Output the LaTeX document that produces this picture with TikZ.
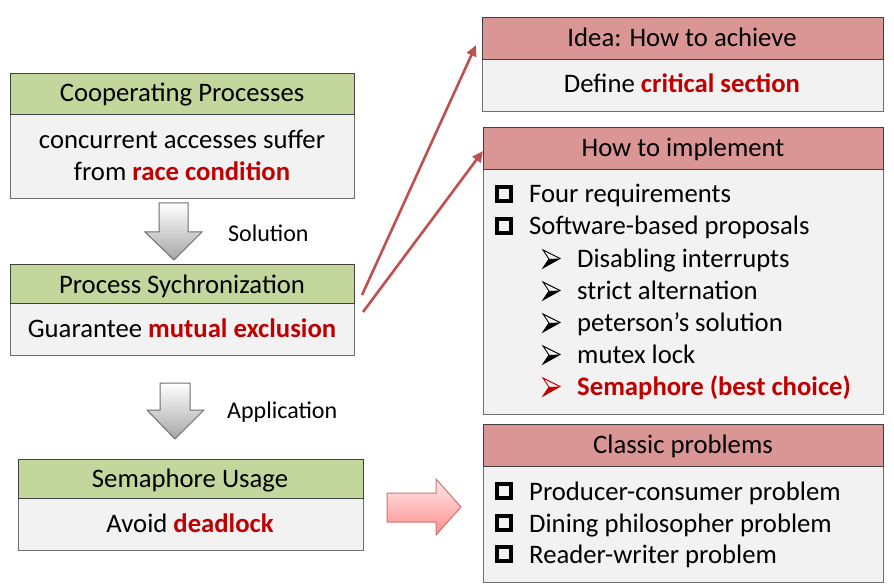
\documentclass[tikz,border=0pt]{standalone}
\usepackage{fontspec}
\setmainfont{Carlito}
\usetikzlibrary{arrows.meta,calc}
\definecolor{hgreen}{HTML}{C3D69B}
\definecolor{hpink}{HTML}{D99694}
\definecolor{bodyg}{HTML}{F2F2F2}
\definecolor{txtred}{HTML}{C00000}
\definecolor{arrred}{HTML}{C0504D}
\definecolor{bord}{HTML}{404040}
\definecolor{bordb}{HTML}{6E6E6E}
\begin{document}
\begin{tikzpicture}[x=1pt,y=-1pt,
  box/.style={line width=1.3pt, anchor=north west, inner sep=0pt},
  hdrg/.style={box, draw=bord, fill=hgreen},
  hdrp/.style={box, draw=bord, fill=hpink},
  bodyb/.style={box, draw=bordb, fill=bodyg},
  txt/.style={font=\fontsize{26.7}{32}\selectfont, inner sep=0pt, anchor=base},
  item/.style={font=\fontsize{26.7}{32}\selectfont, inner sep=0pt, anchor=base west},
  lbl/.style={font=\fontsize{24}{28}\selectfont, inner sep=0pt, anchor=base west},
  sq/.style={draw=black, line width=3.4pt, minimum size=14pt, inner sep=0pt},
  pics/abul/.style={code={
    \fill[#1] (6,9) -- (17,8.5) -- (0,18) -- cycle;
    \draw[#1, line width=0.9pt, line join=miter] (0,0) -- (17,8.5) -- (0,18) -- (6,9) -- cycle;
  }},
  redarrow/.style={draw=arrred, line width=2.6pt, -{Triangle[length=11pt,width=10pt]}},
  grayblock/.style={draw=bordb, line width=1pt, top color=white, bottom color=black!35},
  pinkblock/.style={draw=arrred!80, line width=1pt, top color=red!8, bottom color=red!45!white}
]
\useasboundingbox (0,0) rectangle (894,588);

% ---------- left column ----------
\node[bodyb, minimum width=344pt, minimum height=84pt] (b1) at (10,114) {};
\node[hdrg, minimum width=344pt, minimum height=41pt] (h1) at (10,73) {};
\node[txt] (h1t) at (182,102) {Cooperating Processes};
\node[txt] (b1t1) at (182,149) {concurrent accesses suffer};
\node[txt] (b1t2) at (182,181) {from {\bfseries\color{txtred}race condition}};

\path[grayblock] (159,203) -- (188,203) -- (188,232) -- (202,232) -- (174,260) -- (145,232) -- (159,232) -- cycle;
\node[lbl] (sol) at (228,241) {Solution};

\node[bodyb, minimum width=344pt, minimum height=52pt] (b2) at (10,303) {};
\node[hdrg, minimum width=344pt, minimum height=39pt] (h2) at (10,264) {};
\node[txt] (h2t) at (182,293) {Process Sychronization};
\node[txt] (b2t) at (182,337) {Guarantee {\bfseries\color{txtred}mutual exclusion}};

\path[grayblock] (160,383) -- (190,383) -- (190,410) -- (204,410) -- (175,439) -- (147,410) -- (160,410) -- cycle;
\node[lbl] (app) at (227,418) {Application};

\node[bodyb, minimum width=345pt, minimum height=52pt] (b3) at (18,498) {};
\node[hdrg, minimum width=345pt, minimum height=39pt] (h3) at (18,459) {};
\node[txt] (h3t) at (190,487) {Semaphore Usage};
\node[txt] (b3t) at (190,532) {Avoid {\bfseries\color{txtred}deadlock}};

% ---------- right column ----------
\node[bodyb, minimum width=401pt, minimum height=52pt] (bA) at (482,59) {};
\node[hdrp, minimum width=401pt, minimum height=42pt] (hA) at (482,17) {};
\node[txt] (hAt) at (682,47) {Idea: How to achieve};
\node[txt] (bAt) at (682,93) {Define {\bfseries\color{txtred}critical section}};

\node[bodyb, minimum width=400pt, minimum height=245pt] (bB) at (483,169) {};
\node[hdrp, minimum width=400pt, minimum height=42pt] (hB) at (483,127) {};
\node[txt] (hBt) at (683,157) {How to implement};
\node[sq] (q1) at (504,194) {};
\node[item] (i1) at (529,203) {Four requirements};
\node[sq] (q2) at (504,226) {};
\node[item] (i2) at (529,235) {Software-based proposals};
\pic at (543,250) {abul=black};
\node[item] (i3) at (577,267) {Disabling interrupts};
\pic at (543,282) {abul=black};
\node[item] (i4) at (577,299) {strict alternation};
\pic at (543,314) {abul=black};
\node[item] (i5) at (577,331) {peterson’s solution};
\pic at (543,346) {abul=black};
\node[item] (i6) at (577,363) {mutex lock};
\pic at (543,378) {abul=txtred};
\node[item, font=\fontsize{26.7}{32}\selectfont\bfseries, text=txtred] (i7) at (577,395) {Semaphore (best choice)};

\node[bodyb, minimum width=400pt, minimum height=116pt] (bC) at (483,466) {};
\node[hdrp, minimum width=400pt, minimum height=42pt] (hC) at (483,424) {};
\node[txt] (hCt) at (683,453) {Classic problems};
\node[sq] (q3) at (504,491) {};
\node[item] (c1) at (529,500) {Producer-consumer problem};
\node[sq] (q4) at (504,523) {};
\node[item] (c2) at (529,532) {Dining philosopher problem};
\node[sq] (q5) at (504,554) {};
\node[item] (c3) at (529,563) {Reader-writer problem};

% ---------- connectors ----------
\coordinate (s1) at (362,295);
\coordinate (s2) at (363,312);
\coordinate (e1) at (476,45);
\coordinate (e2) at (483,151);
\draw[redarrow] (s1) -- (e1);
\draw[redarrow] (s2) -- (e2);

\path[pinkblock] (387,493) -- (436,493) -- (436,479) -- (461,507) -- (436,535) -- (436,522) -- (387,522) -- cycle;
\end{tikzpicture}
\end{document}
